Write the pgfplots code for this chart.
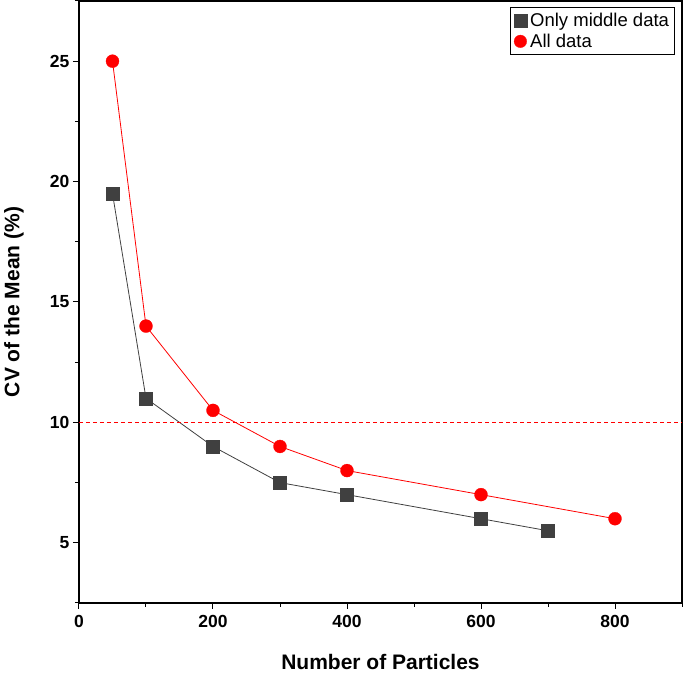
\documentclass[border=0pt]{standalone}
\usepackage{pgfplots}
\pgfplotsset{compat=1.18}
\usepackage{fontspec}
\setmainfont{Liberation Sans}
\usetikzlibrary{calc}
\definecolor{dgray}{HTML}{404040}
\begin{document}
\begin{tikzpicture}
\begin{axis}[
 scale only axis, width=603pt, height=602pt,
 xmin=0,xmax=900,ymin=2.5,ymax=27.5,
 xtick={0,200,...,800}, minor xtick={100,300,...,900},
 ytick={5,10,...,25}, minor ytick={2.5,7.5,...,27.5},
 tick align=outside, xtick pos=bottom, ytick pos=left,
 major tick length=6pt, minor tick length=4pt,
 tick style={black, line width=1pt},
 axis line style={line width=1.2pt},
 ticklabel style={font=\fontsize{17.5}{17.5}\selectfont\bfseries},
 xticklabel style={yshift=-3pt},
 /pgf/number format/assume math mode=true,
 xlabel={Number of Particles}, ylabel={CV of the Mean (\%)},
 label style={font=\fontsize{21}{21}\selectfont\bfseries},
 xlabel style={at={(axis description cs:0.5,-0.098)}, anchor=center},
 ylabel style={at={(axis description cs:-0.108,0.5)}, anchor=center},
 legend style={at={(axis description cs:0.9884,0.99)},anchor=north east, font=\fontsize{18.5}{18.5}\selectfont, draw=black, line width=1pt, inner xsep=4pt, inner ysep=4pt, row sep=3pt, column sep=2pt, nodes={inner sep=1.5pt}},
 legend cell align=left,
]
\coordinate (bl) at (rel axis cs:0,0);
\coordinate (tr) at (rel axis cs:1,1);
\addplot[forget plot, dgray, line width=0.8pt, mark=square*, mark size=6.5pt, mark options={fill=dgray,draw=dgray,line width=0.3pt}] coordinates {
(50,19.5) (100,11) (200,9) (300,7.5) (400,7) (600,6) (700,5.5)};
\addplot[forget plot, red, line width=0.8pt, mark=*, mark size=6.5pt, mark options={fill=red,draw=red,line width=0.3pt}] coordinates {
(50,25) (100,14) (200,10.5) (300,9) (400,8) (600,7) (800,6)};
\addplot[forget plot, red, dash pattern=on 4pt off 3pt, line width=0.8pt] coordinates {(0,10) (900,10)};
\addlegendimage{only marks, mark=square*, mark size=6.3pt, dgray, mark options={fill=dgray,line width=0.3pt}}
\addlegendentry{Only middle data}
\addlegendimage{only marks, mark=*, mark size=6.3pt, red, mark options={fill=red,line width=0.3pt}}
\addlegendentry{All data}
\end{axis}
\pgfresetboundingbox
\path ($(bl)+(-79pt,-71pt)$) rectangle ($(tr)+(1pt,1pt)$);
\end{tikzpicture}
\end{document}
